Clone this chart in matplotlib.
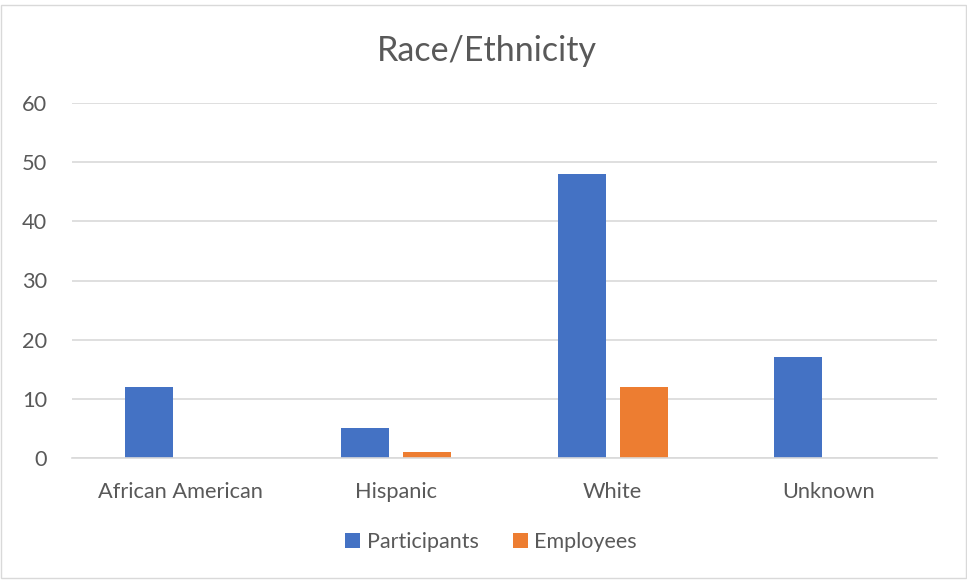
import matplotlib
matplotlib.use("Agg")
import matplotlib.pyplot as plt
from matplotlib.patches import Rectangle
import numpy as np

# Counts by race/ethnicity
categories = ["African American", "Hispanic", "White", "Unknown"]
participants = [12, 5, 48, 17]
employees = [0, 1, 12, 0]
y_ticks = [0, 10, 20, 30, 40, 50, 60]

plt.rcParams["font.family"] = ["Lato", "DejaVu Sans"]
text_color = "#595959"
grid_color = "#d9d9d9"

fig = plt.figure(figsize=(9.67, 5.8), dpi=100)
ax = fig.add_axes([72 / 967, 122 / 580, 865 / 967, 355 / 580])

x = np.arange(len(categories))
width = 0.222
offset = 0.1435
ax.bar(x - offset, participants, width, color="#4472C4", label="Participants", zorder=3)
ax.bar(x + offset, employees, width, color="#ED7D31", label="Employees", zorder=3)

ax.set_xlim(-0.5, len(categories) - 0.5)
ax.set_ylim(0, 60)
ax.set_yticks(y_ticks)
ax.set_xticks(x)
ax.set_xticklabels(categories)
ax.tick_params(axis="both", length=0, labelsize=15.7, colors=text_color)
ax.tick_params(axis="x", pad=17)
ax.tick_params(axis="y", pad=18)
for lbl in ax.get_yticklabels():
    lbl.set_horizontalalignment("right")

ax.grid(axis="y", color=grid_color, linewidth=1.2, zorder=0)
for side in ["top", "right", "left"]:
    ax.spines[side].set_visible(False)
ax.spines["bottom"].set_color(grid_color)
ax.spines["bottom"].set_linewidth(1.2)
ax.spines["bottom"].set_zorder(4)

fig.text(487 / 967, 1 - 51 / 580, "Race/Ethnicity", ha="center", va="center",
         fontsize=24.5, color=text_color)

fig.legend(loc="center", bbox_to_anchor=(491 / 967, 1 - 542 / 580), ncol=2,
           frameon=False, fontsize=15.5, labelcolor=text_color,
           handlelength=0.7, handleheight=0.7, handletextpad=0.3,
           columnspacing=1.6)

# chart border
fig.patches.append(Rectangle((1 / 967, 2 / 580), 965 / 967, 573 / 580,
                             transform=fig.transFigure, fill=False,
                             edgecolor="#d9d9d9", linewidth=1))

fig.savefig("out.png", dpi=100, facecolor="white")
